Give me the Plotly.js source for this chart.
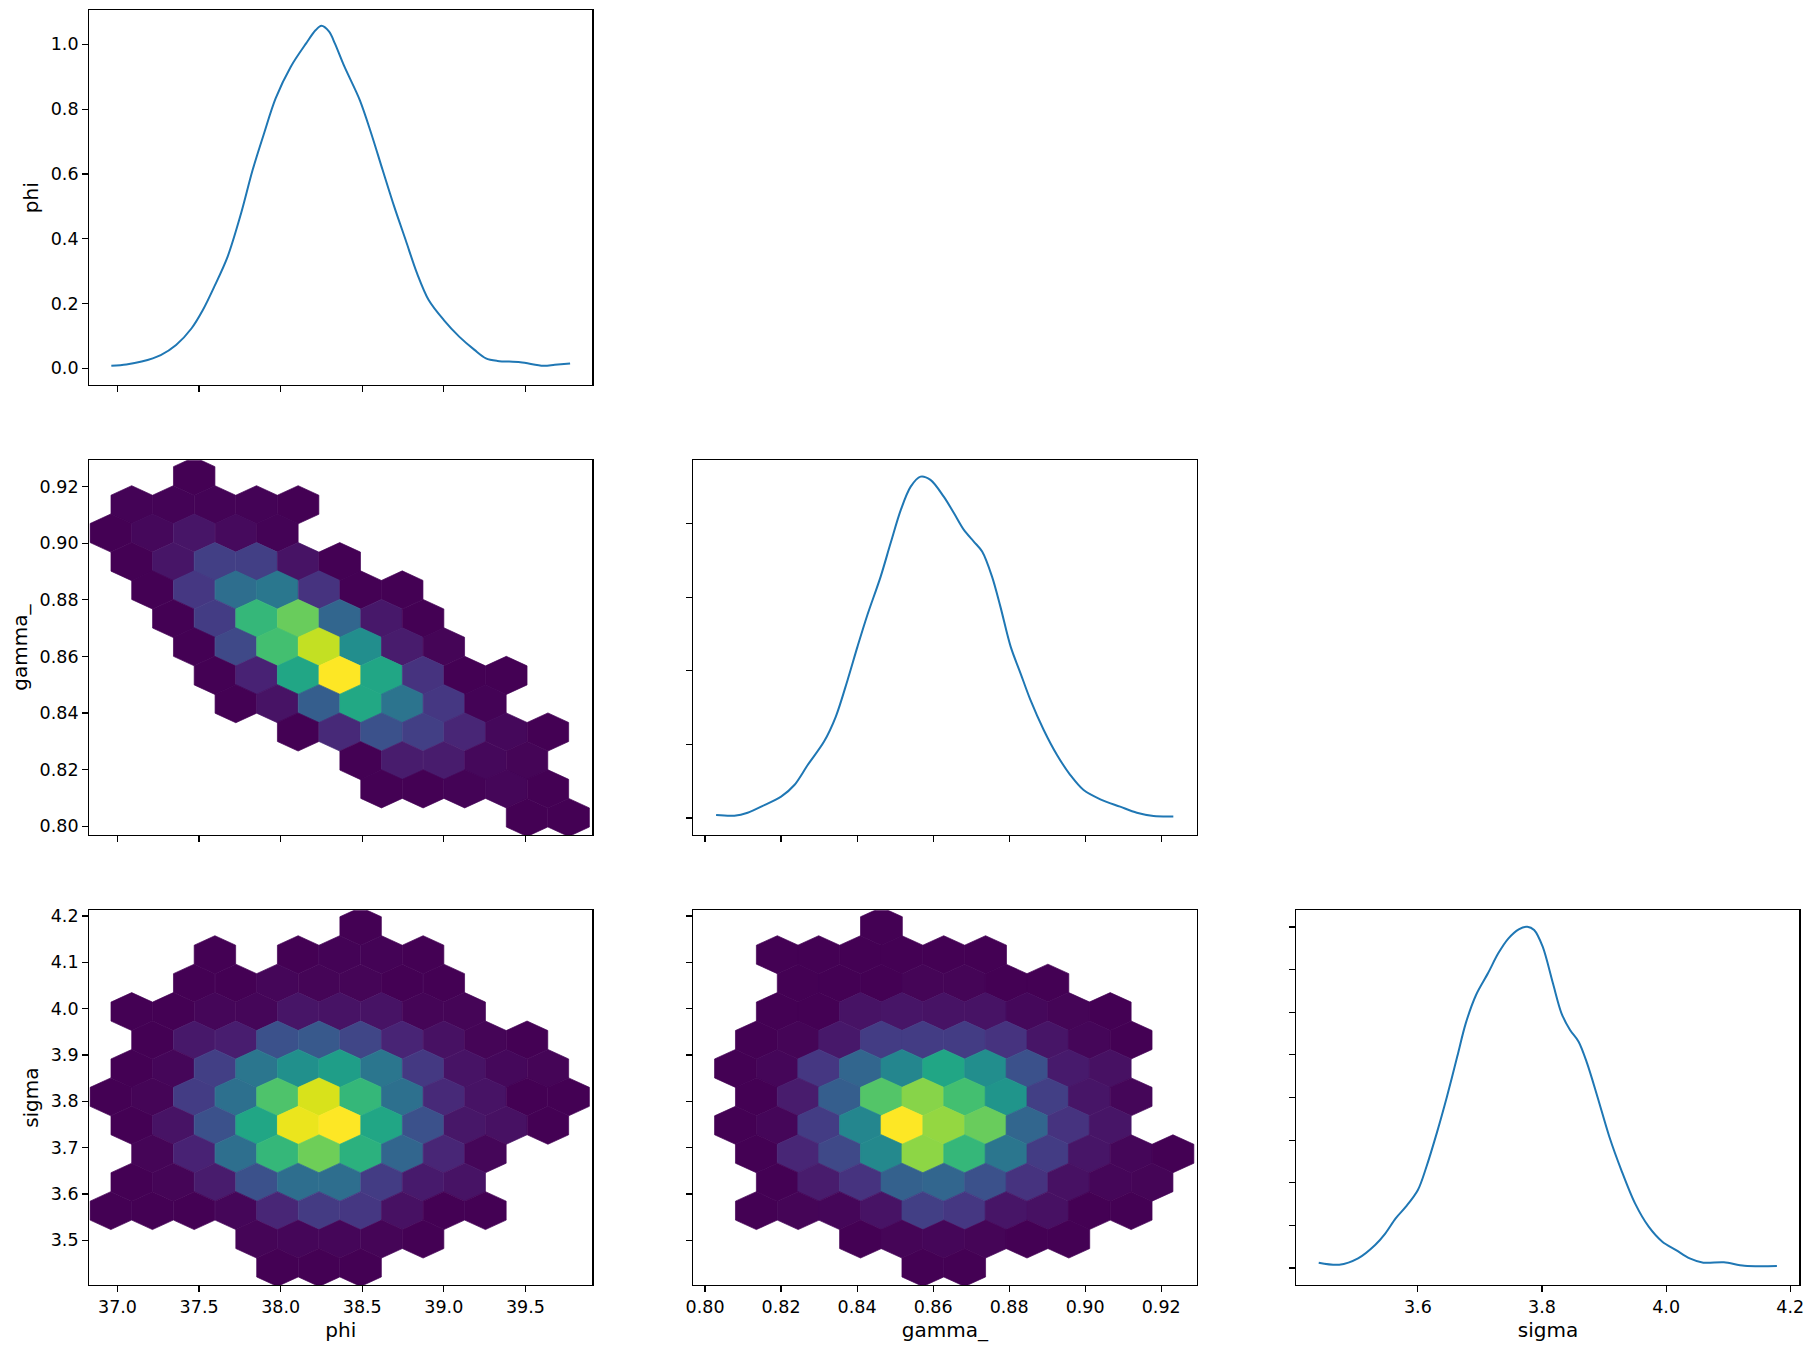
<!DOCTYPE html>
<html>
<head>
<meta charset="utf-8">
<script src="https://cdn.plot.ly/plotly-3.0.1.min.js"></script>
<style>html,body{margin:0;padding:0;background:#fff}#plot{width:1816px;height:1349px}</style>
</head>
<body>
<div id="plot"></div>
<script>

// marginal KDE curves
var phiKdeX = [36.962, 37.054, 37.148, 37.265, 37.359, 37.453, 37.523, 37.593, 37.675, 37.757, 37.828, 37.898, 37.969, 38.062, 38.156, 38.215, 38.250, 38.297, 38.332, 38.391, 38.485, 38.555, 38.625, 38.696, 38.766, 38.836, 38.907, 39.000, 39.094, 39.188, 39.258, 39.329, 39.469, 39.610, 39.680, 39.774];
var phiKdeY = [0.008, 0.012, 0.021, 0.041, 0.072, 0.123, 0.180, 0.252, 0.345, 0.478, 0.612, 0.725, 0.833, 0.931, 1.003, 1.044, 1.057, 1.039, 1.003, 0.931, 0.828, 0.725, 0.612, 0.499, 0.396, 0.293, 0.211, 0.149, 0.098, 0.057, 0.031, 0.023, 0.019, 0.008, 0.011, 0.015];

var gammaKdeX = [0.8029, 0.8077, 0.8112, 0.8156, 0.8200, 0.8235, 0.8270, 0.8313, 0.8344, 0.8375, 0.8401, 0.8427, 0.8462, 0.8488, 0.8515, 0.8541, 0.8567, 0.8593, 0.8628, 0.8655, 0.8681, 0.8707, 0.8729, 0.8755, 0.8777, 0.8804, 0.8830, 0.8856, 0.8891, 0.8926, 0.8961, 0.8996, 0.9040, 0.9092, 0.9136, 0.9180, 0.9232];
var gammaKdeY = [0.20, 0.16, 0.36, 0.88, 1.45, 2.24, 3.60, 5.19, 6.89, 9.38, 11.64, 13.79, 16.40, 18.66, 20.93, 22.51, 23.19, 22.97, 21.83, 20.70, 19.57, 18.78, 18.10, 16.40, 14.36, 11.64, 9.83, 8.02, 5.98, 4.28, 2.92, 1.90, 1.27, 0.77, 0.36, 0.14, 0.11];

var sigmaKdeX = [3.4402, 3.4733, 3.5036, 3.5311, 3.5477, 3.5642, 3.5807, 3.6000, 3.6138, 3.6303, 3.6468, 3.6634, 3.6771, 3.6937, 3.7129, 3.7295, 3.7460, 3.7625, 3.7763, 3.7873, 3.8011, 3.8176, 3.8314, 3.8452, 3.8590, 3.8727, 3.8893, 3.9085, 3.9278, 3.9499, 3.9719, 3.9939, 4.0160, 4.0380, 4.0600, 4.0931, 4.1261, 4.1785];
var sigmaKdeY = [0.063, 0.039, 0.113, 0.270, 0.407, 0.582, 0.719, 0.915, 1.188, 1.579, 2.009, 2.479, 2.869, 3.202, 3.456, 3.690, 3.866, 3.972, 4.003, 3.964, 3.768, 3.339, 2.987, 2.791, 2.654, 2.400, 2.009, 1.540, 1.149, 0.758, 0.485, 0.309, 0.211, 0.113, 0.063, 0.067, 0.027, 0.024];

// hexbin bin centres (staggered lattice: columns step half a hex, rows step half a period)
var phiBins = [36.832, 36.959, 37.087, 37.214, 37.342, 37.470, 37.597, 37.725, 37.852, 37.980, 38.107, 38.235, 38.362, 38.490, 38.618, 38.745, 38.873, 39.000, 39.128, 39.255, 39.383, 39.510, 39.638, 39.765, 39.893];
var gammaBins = [0.8025, 0.8080, 0.8135, 0.8190, 0.8245, 0.8299, 0.8354, 0.8409, 0.8464, 0.8518, 0.8573, 0.8628, 0.8683, 0.8738, 0.8792, 0.8847, 0.8902, 0.8957, 0.9011, 0.9066, 0.9121, 0.9176, 0.9231];
var gammaRows = [0.9237, 0.9136, 0.9036, 0.8935, 0.8835, 0.8734, 0.8634, 0.8533, 0.8433, 0.8333, 0.8232, 0.8132, 0.8031];
var sigmaRows = [4.1778, 4.1164, 4.0550, 3.9936, 3.9323, 3.8709, 3.8096, 3.7482, 3.6868, 3.6255, 3.5641, 3.5027, 3.4414];

// [column index, row index, count]
var phiGammaHex = [
  [5,0,1],
  [2,1,2],[4,1,2],[6,1,2],[8,1,2],[10,1,1],
  [1,2,1],[3,2,5],[5,2,12],[7,2,6],[9,2,2],
  [2,3,1],[4,3,12],[6,3,38],[8,3,38],[10,3,11],[12,3,1],
  [3,4,1],[5,4,33],[7,4,72],[9,4,80],[11,4,30],[13,4,1],[15,4,1],
  [4,5,1],[6,5,36],[8,5,133],[10,5,154],[12,5,66],[14,5,14],[16,5,1],
  [5,6,1],[7,6,44],[9,6,140],[11,6,182],[13,6,98],[15,6,16],[17,6,3],
  [6,7,1],[8,7,20],[10,7,119],[12,7,200],[14,7,119],[16,7,30],[18,7,1],[20,7,1],
  [7,8,1],[9,8,11],[11,8,60],[13,8,120],[15,8,77],[17,8,33],[19,8,2],
  [10,9,1],[12,9,24],[14,9,50],[16,9,38],[18,9,22],[20,9,5],[22,9,1],
  [13,10,1],[15,10,16],[17,10,16],[19,10,5],[21,10,3],
  [14,11,1],[16,11,1],[18,11,2],[20,11,4],[22,11,1],
  [21,12,1],[23,12,1]
];

var phiSigmaHex = [
  [13,0,1],
  [6,1,1],[10,1,1],[12,1,2],[14,1,2],[16,1,1],
  [5,2,1],[7,2,1],[9,2,4],[11,2,3],[13,2,3],[15,2,1],[17,2,1],
  [2,3,1],[4,3,1],[6,3,4],[8,3,4],[10,3,12],[12,3,11],[14,3,11],[16,3,3],[18,3,3],
  [3,4,1],[5,4,14],[7,4,17],[9,4,50],[11,4,56],[13,4,42],[15,4,21],[17,4,10],[19,4,3],[21,4,1],
  [2,5,1],[4,5,4],[6,5,38],[8,5,79],[10,5,100],[12,5,112],[14,5,79],[16,5,34],[18,5,11],[20,5,5],[22,5,3],
  [1,6,1],[3,6,3],[5,6,36],[7,6,74],[9,6,144],[11,6,188],[13,6,133],[15,6,74],[17,6,24],[19,6,11],[21,6,1],[23,6,1],
  [2,7,1],[4,7,11],[6,7,50],[8,7,119],[10,7,194],[12,7,200],[14,7,119],[16,7,50],[18,7,13],[20,7,10],[22,7,1],
  [3,8,3],[5,8,20],[7,8,73],[9,8,133],[11,8,156],[13,8,128],[15,8,66],[17,8,22],[19,8,4],
  [2,9,1],[4,9,3],[6,9,16],[8,9,50],[10,9,72],[12,9,72],[14,9,36],[16,9,15],[18,9,11],
  [1,10,1],[3,10,1],[5,10,1],[7,10,4],[9,10,22],[11,10,35],[13,10,33],[15,10,10],[17,10,1],[19,10,1],
  [8,11,3],[10,11,4],[12,11,4],[14,11,3],[16,11,1],
  [9,12,1],[11,12,1],[13,12,1]
];

var gammaSigmaHex = [
  [8,0,1],
  [3,1,1],[5,1,1],[7,1,1],[9,1,1],[11,1,1],[13,1,1],
  [4,2,1],[6,2,1],[8,2,1],[10,2,3],[12,2,3],[14,2,1],[16,2,1],
  [3,3,1],[5,3,1],[7,3,11],[9,3,12],[11,3,11],[13,3,11],[15,3,5],[17,3,3],[19,3,1],
  [2,4,1],[4,4,3],[6,4,14],[8,4,36],[10,4,36],[12,4,36],[14,4,30],[16,4,12],[18,4,4],[20,4,1],
  [1,5,1],[3,5,4],[5,5,33],[7,5,66],[9,5,92],[11,5,119],[13,5,98],[15,5,50],[17,5,15],[19,5,10],
  [2,6,1],[4,6,16],[6,6,60],[8,6,146],[10,6,164],[12,6,140],[14,6,104],[16,6,38],[18,6,12],[20,6,4],
  [1,7,1],[3,7,4],[5,7,36],[7,7,92],[9,7,200],[11,7,168],[13,7,154],[15,7,66],[17,7,30],[19,7,12],
  [2,8,1],[4,8,22],[6,8,44],[8,8,94],[10,8,166],[12,8,133],[14,8,79],[16,8,36],[18,8,12],[20,8,4],[22,8,1],
  [3,9,1],[5,9,16],[7,9,30],[9,9,62],[11,9,66],[13,9,50],[15,9,30],[17,9,10],[19,9,4],[21,9,3],
  [2,10,1],[4,10,3],[6,10,4],[8,10,11],[10,10,38],[12,10,33],[14,10,12],[16,10,10],[18,10,1],[20,10,1],
  [7,11,1],[9,11,3],[11,11,4],[13,11,3],[15,11,1],[17,11,1],
  [10,12,1],[12,12,1]
];

// tick positions
var phiTicks = [37.0, 37.5, 38.0, 38.5, 39.0, 39.5];
var gammaTicks = [0.80, 0.82, 0.84, 0.86, 0.88, 0.90, 0.92];
var sigmaTicks = [3.5, 3.6, 3.7, 3.8, 3.9, 4.0, 4.1, 4.2];
var sigmaMargTicks = [3.6, 3.8, 4.0, 4.2];
var phiDensTicks = [0.0, 0.2, 0.4, 0.6, 0.8, 1.0];
var gammaDensTicks = [0, 5, 10, 15, 20];
var sigmaDensTicks = [0, 0.5, 1.0, 1.5, 2.0, 2.5, 3.0, 3.5, 4.0];

var viridis = ['#440154','#471365','#482475','#463480','#414487','#3b528b','#355f8d','#2f6c8e','#2a788e','#25848e','#21918c','#1e9c89','#22a884','#2fb47c','#44bf70','#5ec962','#7ad151','#9bd93c','#bddf26','#dfe318','#fde725'];

function hexToRgb(h) {
  return [parseInt(h.substr(1,2),16), parseInt(h.substr(3,2),16), parseInt(h.substr(5,2),16)];
}

function viridisColor(t) {
  t = Math.max(0, Math.min(1, t));
  var p = t * (viridis.length - 1);
  var i = Math.min(Math.floor(p), viridis.length - 2);
  var f = p - i;
  var a = hexToRgb(viridis[i]), b = hexToRgb(viridis[i+1]);
  var c = a.map(function (v, j) { return Math.round(v + (b[j] - v) * f); });
  return 'rgb(' + c.join(',') + ')';
}

function hexTraces(cells, xs, ys, xa, ya) {
  var sx = 2 * Math.abs(xs[1] - xs[0]);
  var sy = 2 * Math.abs(ys[1] - ys[0]);
  var counts = cells.map(function (c) { return c[2]; });
  var cmin = Math.min.apply(null, counts), cmax = Math.max.apply(null, counts);
  return cells.map(function (c) {
    var cx = xs[c[0]], cy = ys[c[1]];
    var col = viridisColor((c[2] - cmin) / (cmax - cmin));
    return {
      x: [cx + sx/2, cx + sx/2, cx, cx - sx/2, cx - sx/2, cx, cx + sx/2],
      y: [cy - sy/6, cy + sy/6, cy + sy/3, cy + sy/6, cy - sy/6, cy - sy/3, cy - sy/6],
      xaxis: xa, yaxis: ya,
      type: 'scatter', mode: 'lines', fill: 'toself',
      fillcolor: col, line: {color: col, width: 0.7},
      hoverinfo: 'skip', showlegend: false
    };
  });
}

function kdeTrace(x, y, xa, ya) {
  return {x: x, y: y, xaxis: xa, yaxis: ya, type: 'scatter', mode: 'lines',
          line: {color: '#1f77b4', width: 2, shape: 'spline', smoothing: 0.9}, showlegend: false};
}

var traces = []
  .concat(hexTraces(phiGammaHex, phiBins, gammaRows, 'x2', 'y2'))
  .concat(hexTraces(phiSigmaHex, phiBins, sigmaRows, 'x4', 'y4'))
  .concat(hexTraces(gammaSigmaHex, gammaBins, sigmaRows, 'x5', 'y5'));
traces.push(kdeTrace(phiKdeX, phiKdeY, 'x', 'y'));
traces.push(kdeTrace(gammaKdeX, gammaKdeY, 'x3', 'y3'));
traces.push(kdeTrace(sigmaKdeX, sigmaKdeY, 'x6', 'y6'));

var tickFont = {family: 'DejaVu Sans, sans-serif', size: 17.5, color: '#000'};
var titleFont = {family: 'DejaVu Sans, sans-serif', size: 20, color: '#000'};

function axis(domain, range, ticks, labels, digits, anchor, title) {
  var a = {
    domain: domain, range: range, anchor: anchor,
    tickmode: 'array', tickvals: ticks,
    ticktext: ticks.map(function (v) { return v.toFixed(digits); }),
    showticklabels: labels,
    ticks: 'outside', ticklen: 6, tickwidth: 1.2, tickcolor: '#000',
    showline: true, mirror: true, linecolor: '#000', linewidth: 1.2,
    showgrid: false, zeroline: false, tickfont: tickFont, fixedrange: true
  };
  if (title) a.title = {text: title, font: titleFont, standoff: 6};
  return a;
}

var col1 = [0.04917, 0.32616], col2 = [0.38177, 0.65887], col3 = [0.71393, 0.99091];
var row1 = [0.71460, 0.99236], row2 = [0.38102, 0.65878], row3 = [0.04745, 0.32521];

var phiRange = [36.827, 39.910];
var gammaRange = [0.7969, 0.9293];
var sigmaRange = [3.4036, 4.2122];

var layout = {
  width: 1816, height: 1349,
  margin: {l: 0, r: 0, t: 0, b: 0},
  paper_bgcolor: '#fff', plot_bgcolor: '#fff',
  showlegend: false,
  xaxis:  axis(col1, phiRange, phiTicks, false, 1, 'y'),
  yaxis:  axis(row1, [-0.0514, 1.105], phiDensTicks, true, 1, 'x', 'phi'),
  xaxis2: axis(col1, phiRange, phiTicks, false, 1, 'y2'),
  yaxis2: axis(row2, gammaRange, gammaTicks, true, 2, 'x2', 'gamma_'),
  xaxis3: axis(col2, gammaRange, gammaTicks, false, 2, 'y3'),
  yaxis3: axis(row2, [-1.155, 24.30], gammaDensTicks, false, 0, 'x3'),
  xaxis4: axis(col1, phiRange, phiTicks, true, 1, 'y4', 'phi'),
  yaxis4: axis(row3, sigmaRange, sigmaTicks, true, 1, 'x4', 'sigma'),
  xaxis5: axis(col2, gammaRange, gammaTicks, true, 2, 'y5', 'gamma_'),
  yaxis5: axis(row3, sigmaRange, sigmaTicks, false, 1, 'x5'),
  xaxis6: axis(col3, [3.4044, 4.2149], sigmaMargTicks, true, 1, 'y6', 'sigma'),
  yaxis6: axis(row3, [-0.199, 4.195], sigmaDensTicks, false, 1, 'x6')
};

Plotly.newPlot('plot', traces, layout, {displayModeBar: false, staticPlot: true});

</script>
</body>
</html>
